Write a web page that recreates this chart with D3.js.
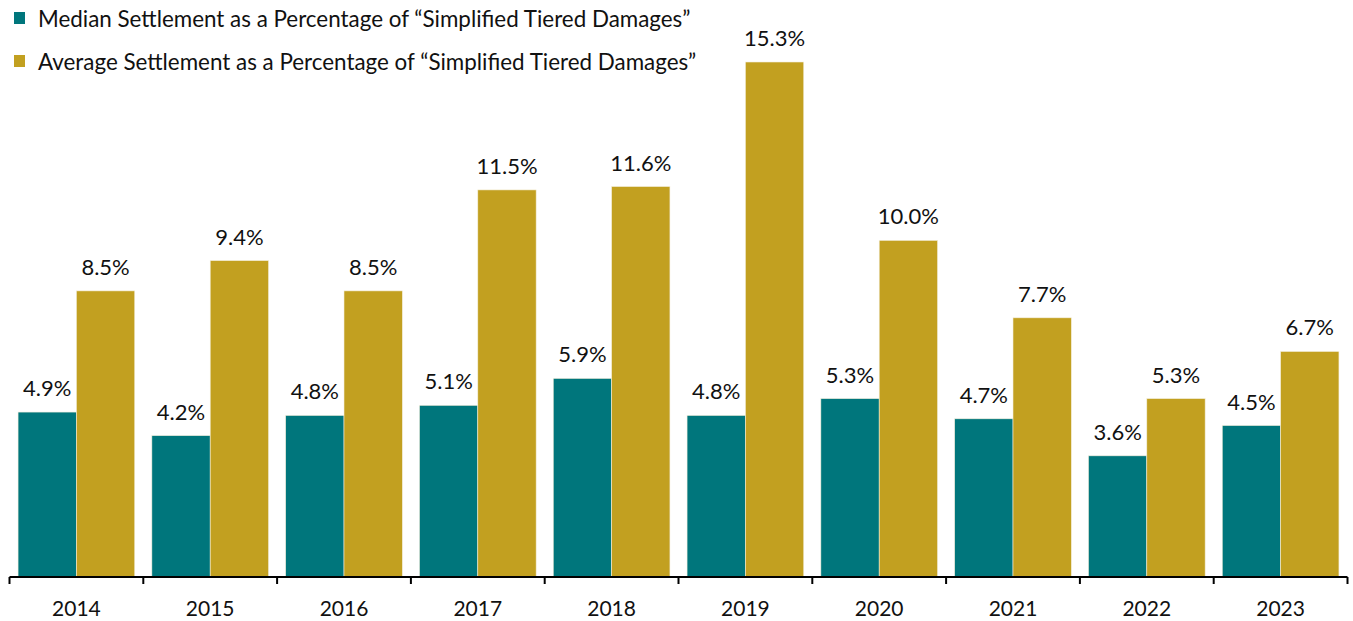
<!DOCTYPE html>
<html><head><meta charset="utf-8">
<script src="https://cdn.jsdelivr.net/npm/d3@7"></script>
<style>body{margin:0;background:#fff}svg{display:block}text{font-family:Lato,"Open Sans",sans-serif;fill:#111}</style>
</head><body><svg id="c" width="1353" height="621"></svg>
<script>
const years = ["2014","2015","2016","2017","2018","2019","2020","2021","2022","2023"];
const seriesNames = ["Median Settlement as a Percentage of \u201cSimplified Tiered Damages\u201d","Average Settlement as a Percentage of \u201cSimplified Tiered Damages\u201d"];
const medianValues = [4.9,4.2,4.8,5.1,5.9,4.8,5.3,4.7,3.6,4.5];
const averageValues = [8.5,9.4,8.5,11.5,11.6,15.3,10.0,7.7,5.3,6.7];
const colors = ["#00767C","#C2A020"];

const svg = d3.select("#c");
const baseY = 577;
const x0 = d3.scaleBand().domain(years).range([9.5,1347.5]).padding(0);
const x1 = d3.scaleBand().domain([0,1]).range([0,x0.bandwidth()]).paddingInner(0).paddingOuter(0.1466);
const y = d3.scaleLinear().domain([0,16]).range([baseY, baseY-16*33.66]);

const data = years.map((yr,i)=>({yr, vals:[medianValues[i],averageValues[i]]}));
const g = svg.append("g");
const grp = g.selectAll("g.grp").data(data).enter().append("g").attr("transform",d=>`translate(${x0(d.yr)},0)`);
grp.selectAll("rect").data(d=>d.vals.map((v,s)=>({v,s}))).enter().append("rect")
  .attr("x",d=>x1(d.s)).attr("width",x1.bandwidth())
  .attr("y",d=>y(d.v)).attr("height",d=>baseY-y(d.v))
  .attr("fill",d=>colors[d.s]).attr("stroke","#f4efdc").attr("stroke-width",0.6);
grp.selectAll("text.lbl").data(d=>d.vals.map((v,s)=>({v,s}))).enter().append("text")
  .attr("class","lbl").attr("x",d=>x1(d.s)+x1.bandwidth()/2).attr("y",d=>y(d.v)-16)
  .attr("text-anchor","middle").style("font-size","22px").text(d=>d.v.toFixed(1)+"%");

// axis
const ax = svg.append("g").attr("transform",`translate(0,${baseY})`);
ax.append("line").attr("x1",9.5).attr("x2",1347.5).attr("stroke","#000").attr("stroke-width",2);
const edges = years.map(d=>x0(d)).concat([x0.range()[1]]);
ax.selectAll("line.tk").data(edges).enter().append("line").attr("class","tk")
  .attr("x1",d=>d).attr("x2",d=>d).attr("y1",0).attr("y2",7).attr("stroke","#000").attr("stroke-width",2);
ax.selectAll("text.yr").data(years).enter().append("text").attr("class","yr")
  .attr("x",d=>x0(d)+x0.bandwidth()/2).attr("y",39).attr("text-anchor","middle").style("font-size","21px").text(d=>d);

// legend
const lg = svg.append("g");
seriesNames.forEach((n,i)=>{
  const yy = 12 + i*43;
  lg.append("rect").attr("x",14).attr("y",yy).attr("width",11).attr("height",12).attr("fill",colors[i]);
  lg.append("text").attr("x",38).attr("y",yy+15).style("font-size","22.4px").text(n);
});
</script></body></html>
